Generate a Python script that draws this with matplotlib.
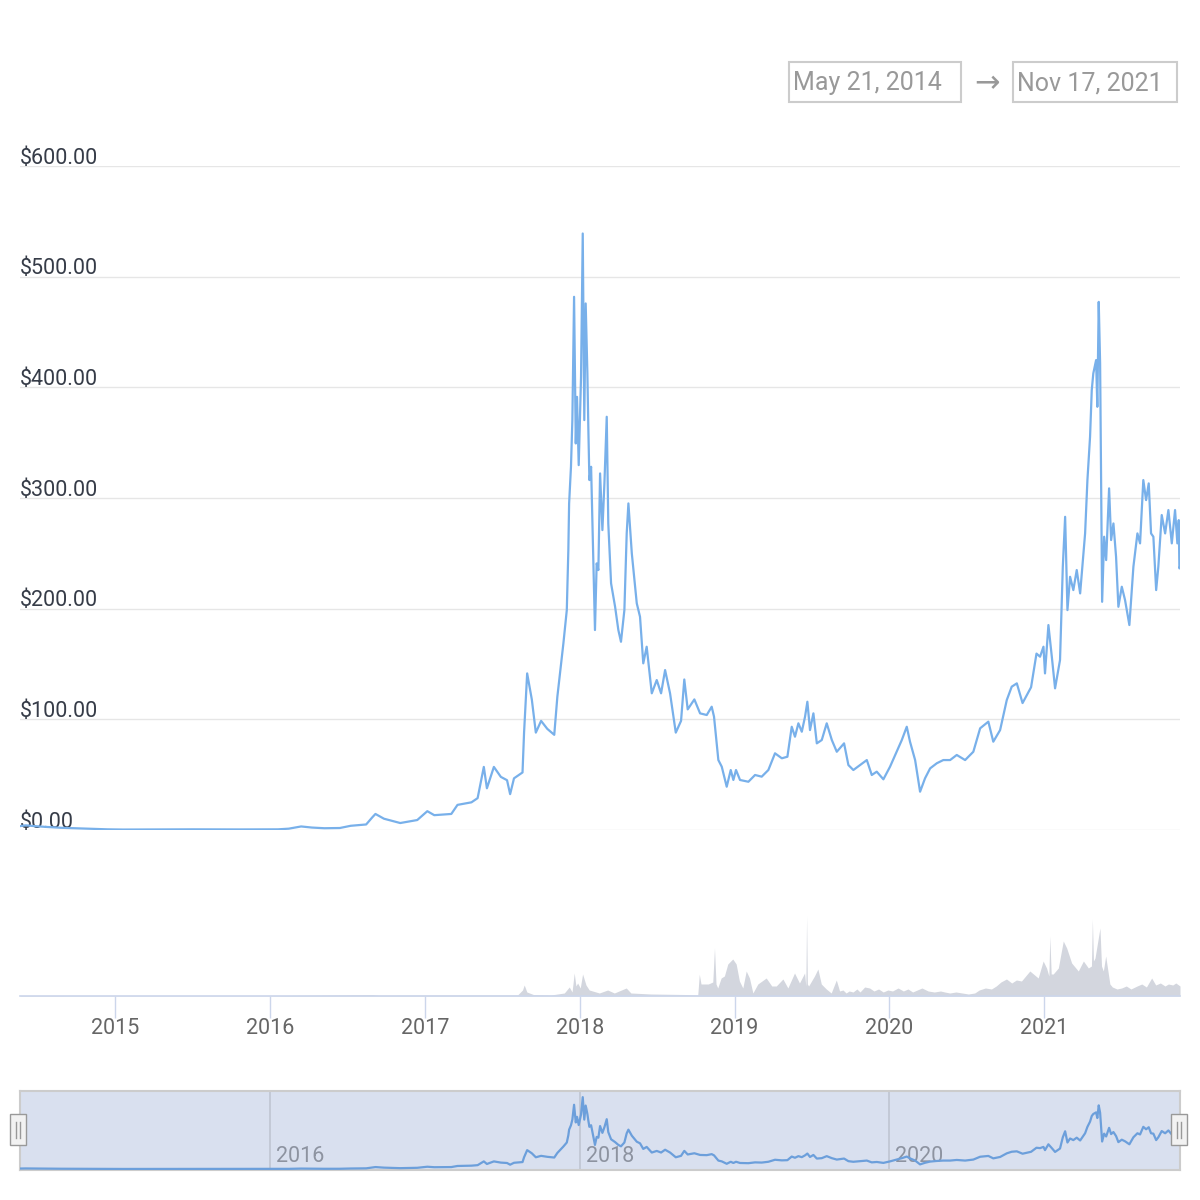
import matplotlib.pyplot as plt
from matplotlib.patches import Rectangle
from matplotlib.lines import Line2D

plt.rcParams['font.family'] = ['Roboto', 'DejaVu Sans']

# price (USD), dates as decimal years
price_dates = [
    2014.384, 2014.42, 2014.47, 2014.55, 2014.65, 2014.75, 2014.85, 2014.95,
    2015.05, 2015.2, 2015.35, 2015.5, 2015.65, 2015.8, 2015.95, 2016.05,
    2016.12, 2016.2, 2016.27, 2016.35, 2016.45, 2016.52, 2016.62, 2016.66,
    2016.68, 2016.735, 2016.84, 2016.95, 2017.015, 2017.06, 2017.17, 2017.21,
    2017.3, 2017.34, 2017.38, 2017.40, 2017.445, 2017.49, 2017.53, 2017.55,
    2017.575, 2017.63, 2017.64, 2017.66, 2017.69, 2017.716, 2017.75, 2017.79,
    2017.835, 2017.855, 2017.872, 2017.894, 2017.916, 2017.926, 2017.931, 2017.943,
    2017.952, 2017.963, 2017.974, 2017.982, 2017.993, 2018.008, 2018.019, 2018.029,
    2018.038, 2018.049, 2018.055, 2018.062, 2018.073, 2018.098, 2018.109, 2018.120,
    2018.131, 2018.146, 2018.159, 2018.174, 2018.184, 2018.202, 2018.228, 2018.249,
    2018.266, 2018.288, 2018.303, 2018.314, 2018.336, 2018.368, 2018.389, 2018.410,
    2018.432, 2018.465, 2018.497, 2018.525, 2018.551, 2018.583, 2018.62, 2018.654,
    2018.675, 2018.697, 2018.74, 2018.777, 2018.820, 2018.852, 2018.867, 2018.895,
    2018.917, 2018.949, 2018.975, 2018.992, 2019.009, 2019.035, 2019.089, 2019.132,
    2019.175, 2019.218, 2019.261, 2019.305, 2019.341, 2019.369, 2019.390, 2019.412,
    2019.434, 2019.455, 2019.470, 2019.487, 2019.509, 2019.531, 2019.563, 2019.595,
    2019.628, 2019.660, 2019.707, 2019.735, 2019.767, 2019.810, 2019.854, 2019.886,
    2019.918, 2019.961, 2020.004, 2020.047, 2020.080, 2020.112, 2020.133, 2020.166,
    2020.198, 2020.230, 2020.263, 2020.306, 2020.348, 2020.392, 2020.435, 2020.489,
    2020.542, 2020.586, 2020.639, 2020.671, 2020.715, 2020.758, 2020.790, 2020.823,
    2020.86, 2020.915, 2020.95, 2020.973, 2020.995, 2021.005, 2021.027, 2021.049,
    2021.070, 2021.102, 2021.120, 2021.135, 2021.150, 2021.167, 2021.188, 2021.210,
    2021.232, 2021.264, 2021.279, 2021.296, 2021.307, 2021.317, 2021.335, 2021.343,
    2021.352, 2021.361, 2021.374, 2021.387, 2021.400, 2021.419, 2021.432, 2021.447,
    2021.464, 2021.479, 2021.501, 2021.522, 2021.550, 2021.576, 2021.602, 2021.619,
    2021.640, 2021.658, 2021.675, 2021.690, 2021.705, 2021.723, 2021.737, 2021.759,
    2021.781, 2021.802, 2021.824, 2021.845, 2021.860, 2021.869, 2021.873, 2021.877,
]
price_usd = [
    3.5, 4.2, 3.6, 2.8, 2.0, 1.5, 1.0, 0.6,
    0.4, 0.5, 0.7, 0.6, 0.5, 0.5, 0.5, 0.6,
    1.2, 3.2, 2.2, 1.6, 1.8, 3.8, 5.0, 11.5,
    14.5, 10.2, 6.3, 9.0, 17.0, 13.4, 14.5, 22.7,
    25, 28.8, 57, 37.7, 57, 48, 45, 32.4,
    46.7, 52, 88, 141.5, 118, 88, 98.6, 91.4,
    86, 120.4, 141.5, 168.6, 198.7, 252.9, 295, 328.2,
    370.4, 481.8, 349.3, 391.4, 329.7, 409.5, 539, 370.4,
    475.8, 412.6, 364.4, 316.2, 328.2, 180.7, 240.9, 234.9,
    322.2, 271, 313.2, 373.4, 277, 222.9, 201.7, 180.7,
    170.1, 198.7, 268, 295.1, 249.9, 204.8, 192.7, 150.6,
    165.6, 123.5, 135.5, 123.5, 144.5, 123.5, 88, 98.6,
    136, 109, 118, 105.4, 103.9, 111.4, 102.4, 63.2,
    57.2, 39.1, 54.2, 45.2, 54.2, 45.2, 43.6, 49.7,
    48.2, 54.2, 69.3, 64.8, 66.2, 93.3, 84.3, 96.4,
    88.8, 102.4, 115.9, 90.3, 105.4, 78.3, 81.3, 96.4,
    81.3, 70.7, 78.3, 58.7, 54.2, 58.7, 63.2, 49.7,
    52.7, 45.8, 57.2, 70.7, 81.3, 93.3, 79.8, 63.2,
    34.6, 46.7, 55.7, 60.3, 63.2, 63.2, 67.8, 63.2,
    70.7, 91.9, 97.9, 79.8, 90.3, 117.4, 129.5, 132.5,
    114.7, 129, 159.4, 156.6, 165.6, 141.5, 185.2, 156.6,
    128, 153.6, 237.9, 283, 198.7, 228.8, 216.8, 234.9,
    213.8, 268, 316.2, 355.3, 397.5, 412.6, 424.6, 382.4,
    477.2, 421.6, 206.2, 265, 243.9, 308.7, 262, 277,
    246.9, 201.7, 219.8, 207.8, 185.2, 237.9, 268, 259,
    316.2, 298.1, 313.2, 268, 265, 216.8, 237.9, 284.6,
    268, 289.1, 259, 289.1, 259, 280, 236.4, 238,
]

# trading volume (relative units)
volume_dates = [
    2014.384, 2015.0, 2016.0, 2016.66, 2016.7, 2017.3, 2017.598, 2017.63,
    2017.641, 2017.658, 2017.7, 2017.813, 2017.9, 2017.932, 2017.95, 2017.964,
    2017.975, 2017.986, 2018.003, 2018.018, 2018.04, 2018.061, 2018.126, 2018.18,
    2018.223, 2018.3, 2018.33, 2018.46, 2018.675, 2018.762, 2018.772, 2018.783,
    2018.83, 2018.859, 2018.87, 2018.88, 2018.891, 2018.913, 2018.934, 2018.956,
    2018.988, 2019.01, 2019.031, 2019.053, 2019.075, 2019.096, 2019.118, 2019.15,
    2019.204, 2019.24, 2019.269, 2019.312, 2019.344, 2019.387, 2019.419, 2019.452,
    2019.46, 2019.465, 2019.47, 2019.478, 2019.516, 2019.538, 2019.56, 2019.592,
    2019.624, 2019.657, 2019.678, 2019.70, 2019.72, 2019.74, 2019.765, 2019.79,
    2019.81, 2019.84, 2019.872, 2019.90, 2019.93, 2019.96, 2019.99, 2020.02,
    2020.056, 2020.09, 2020.12, 2020.15, 2020.18, 2020.21, 2020.25, 2020.29,
    2020.33, 2020.357, 2020.39, 2020.43, 2020.47, 2020.51, 2020.551, 2020.58,
    2020.62, 2020.659, 2020.69, 2020.72, 2020.756, 2020.79, 2020.82, 2020.853,
    2020.88, 2020.907, 2020.961, 2020.993, 2021.015, 2021.03, 2021.036, 2021.045,
    2021.058, 2021.091, 2021.123, 2021.145, 2021.177, 2021.22, 2021.253, 2021.285,
    2021.305, 2021.311, 2021.318, 2021.328, 2021.36, 2021.37, 2021.382, 2021.397,
    2021.424, 2021.44, 2021.47, 2021.50, 2021.53, 2021.56, 2021.60, 2021.63,
    2021.66, 2021.694, 2021.72, 2021.75, 2021.78, 2021.802, 2021.83, 2021.85,
    2021.877,
]
volume = [
    0.5, 0.3, 0.3, 1.5, 0.8, 1, 1, 6,
    11, 4, 1.5, 1, 3, 9, 4, 23,
    10, 13, 8, 22, 11, 6, 3, 6,
    3, 8, 3, 2, 1.5, 1, 21.7, 12,
    12, 14, 48, 12, 8, 18, 20, 32,
    37, 32, 15, 8, 25, 18, 3, 12,
    18, 10, 10, 17, 8, 23, 13, 23,
    10, 80, 12, 10, 20, 27, 12, 7,
    3, 16, 5, 6, 3, 5, 4, 7,
    4, 9, 8, 5, 7, 4, 6, 5,
    8, 5, 7, 4, 6, 8, 5, 4,
    5, 4, 3, 4, 3, 2, 3, 6,
    8, 7, 10, 14, 17, 13, 16, 15,
    20, 25, 18, 35, 28, 20, 60, 22,
    22, 28, 55, 48, 33, 25, 35, 28,
    30, 77, 35, 38, 68, 30, 25, 40,
    12, 9, 7, 8, 10, 7, 10, 12,
    9, 18, 11, 13, 10, 12, 11, 13,
    10,
]

y_ticks = [0, 100, 200, 300, 400, 500, 600]
x_years = [2015, 2016, 2017, 2018, 2019, 2020, 2021]
nav_years = [2016, 2018, 2020]
range_labels = ["May 21, 2014", "Nov 17, 2021"]

W, H = 1200, 1200
x_min, x_max = price_dates[0], price_dates[-1]
line_color = '#78b0ea'

fig = plt.figure(figsize=(12, 12), dpi=100)


def px_axes(x0, y0, x1, y1):
    return fig.add_axes([x0 / W, 1 - y1 / H, (x1 - x0) / W, (y1 - y0) / H])


def px_rect(x0, y0, x1, y1, **kw):
    fig.patches.append(Rectangle((x0 / W, 1 - y1 / H), (x1 - x0) / W, (y1 - y0) / H,
                                 transform=fig.transFigure, **kw))


# === price panel ===
ax = px_axes(20, 166, 1180, 830)
ax.set_xlim(x_min, x_max)
ax.set_ylim(0, 600)
for v in y_ticks:
    ax.axhline(v, color='#e6e6e6', lw=1.0, zorder=1)
    ax.annotate(f"${v:,.2f}", xy=(0, v), xycoords=('axes fraction', 'data'),
                xytext=(0, 8), textcoords='offset pixels', ha='left', va='center',
                fontsize=15.5, color='#363c48')
ax.plot(price_dates, price_usd, color=line_color, lw=1.6, zorder=3)
ax.axis('off')

# === volume panel ===
axv = px_axes(20, 836, 1180, 996)
axv.set_xlim(x_min, x_max)
axv.set_ylim(0, 160)
axv.fill_between(volume_dates, volume, color='#d3d6de', lw=0)
for s in ['top', 'right', 'left']:
    axv.spines[s].set_visible(False)
axv.spines['bottom'].set_color('#ccd6eb')
axv.spines['bottom'].set_linewidth(1.2)
axv.set_yticks([])
axv.set_xticks(x_years)
axv.set_xticklabels([str(y) for y in x_years], fontsize=15.5, color='#666666')
axv.tick_params(axis='x', length=16, width=1, color='#ccd6eb', pad=0)
axv.set_facecolor('none')

# === navigator ===
axn = px_axes(20, 1091, 1180, 1170)
axn.set_xlim(x_min, x_max)
axn.set_ylim(-7.5, 585)
axn.set_facecolor('#d9e0ef')
for v in nav_years:
    axn.axvline(v, color='#bfc5d2', lw=1.2, zorder=1)
    axn.annotate(str(v), xy=(v, 0), xycoords=('data', 'axes fraction'),
                 xytext=(6, 14), textcoords='offset pixels', ha='left', va='center',
                 fontsize=15.5, color='#8d93a0', zorder=2)
axn.plot(price_dates, price_usd, color='#6c9fdb', lw=1.6, zorder=3)
axn.set_xticks([])
axn.set_yticks([])
for s in axn.spines.values():
    s.set_color('#cccccc')
    s.set_linewidth(1.5)

# navigator handles
for cx in (18, 1179):
    px_rect(cx - 8, 1114, cx + 8, 1145, facecolor='#f2f2f2', edgecolor='#999999', lw=1)
    for dx in (-2, 2):
        fig.lines.append(Line2D([(cx + dx) / W] * 2, [1 - 1122 / H, 1 - 1138 / H],
                                transform=fig.transFigure, color='#999999', lw=1))

# === date range boxes ===
px_rect(789, 62, 961, 102, facecolor='white', edgecolor='#cccccc', lw=1.5)
px_rect(1013, 62, 1177, 102, facecolor='white', edgecolor='#cccccc', lw=1.5)
fig.text(793 / W, 1 - 83 / H, range_labels[0], ha='left', va='center',
         fontsize=18, color='#999999')
fig.text(1017 / W, 1 - 83 / H, range_labels[1], ha='left', va='center',
         fontsize=18, color='#999999')
fig.text(987 / W, 1 - 84 / H, "\u2192", ha='center', va='center',
         fontsize=22, color='#999999')

fig.savefig("out.png", dpi=100, facecolor='white')
